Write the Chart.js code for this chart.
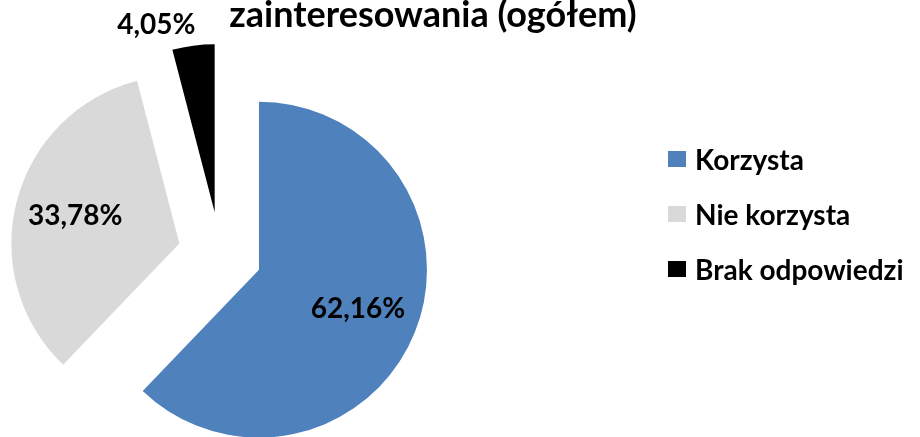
<!DOCTYPE html>
<html>
<head>
<meta charset="utf-8">
<script src="https://cdn.jsdelivr.net/npm/chart.js@4/dist/chart.umd.min.js"></script>
<style>
  html, body { margin: 0; padding: 0; background: #fff; }
  #wrap { position: relative; width: 920px; height: 437px; overflow: hidden; }
  #title {
    position: absolute; left: 433px; top: -5px; transform: translateX(-50%);
    font: bold 36px/36px Lato, sans-serif; color: #000; white-space: nowrap;
  }
  #legend { position: absolute; left: 668px; top: 0; }
  .item { position: absolute; left: 0; display: flex; align-items: center; white-space: nowrap;
    font: bold 28px Lato, sans-serif; color: #000; transform: translateY(-50%); }
  .box { width: 18px; height: 16px; margin-right: 9px; }
</style>
</head>
<body>
<div id="wrap">
  <canvas id="pie"></canvas>
  <div id="title">zainteresowania (ogółem)</div>
  <div id="legend"></div>
</div>
<script>
// Udział respondentów korzystających (ogółem)
const categories = ["Korzysta", "Nie korzysta", "Brak odpowiedzi"];
const shares = [62.16, 33.78, 4.05];
const sliceColors = ["#4F81BD", "#D9D9D9", "#000000"];
const shareLabels = ["62,16%", "33,78%", "4,05%"];

// exploded slices: every slice pushed out from the centre by the same distance
const EXPLODE = 42;
// label placement as fraction of radius + angle nudge (Excel "best fit")
const labelRadius = [0.635, 0.64, 1.17];
const labelNudge = [0, 0, -10];

const explodePlugin = {
  id: "explode",
  afterUpdate(chart) {
    const a = chart.chartArea;
    const cx = (a.left + a.right) / 2, cy = (a.top + a.bottom) / 2;
    chart.getDatasetMeta(0).data.forEach((arc) => {
      const mid = (arc.startAngle + arc.endAngle) / 2;
      arc.x = cx + Math.cos(mid) * EXPLODE;
      arc.y = cy + Math.sin(mid) * EXPLODE;
    });
  },
};

const labelPlugin = {
  id: "sliceLabels",
  afterDatasetsDraw(chart) {
    const c = chart.ctx;
    c.save();
    c.font = "bold 28px Lato, sans-serif";
    c.fillStyle = "#000";
    c.textAlign = "center";
    c.textBaseline = "middle";
    chart.getDatasetMeta(0).data.forEach((arc, i) => {
      const mid = (arc.startAngle + arc.endAngle) / 2 + labelNudge[i] * Math.PI / 180;
      const r = arc.outerRadius * labelRadius[i];
      c.fillText(shareLabels[i], arc.x + Math.cos(mid) * r, arc.y + Math.sin(mid) * r);
    });
    c.restore();
  },
};

new Chart(document.getElementById("pie"), {
  type: "pie",
  data: {
    labels: categories,
    datasets: [{
      data: shares,
      backgroundColor: sliceColors,
      borderWidth: 0,
    }],
  },
  options: {
    responsive: true,
    maintainAspectRatio: false,
    animation: false,
    layout: { padding: { left: 52, top: 86, right: 532, bottom: 15 } },
    plugins: {
      legend: { display: false },
      title: { display: false },
      tooltip: { enabled: false },
    },
  },
  plugins: [explodePlugin, labelPlugin],
});

// legend, built from the same arrays
const legendEl = document.getElementById("legend");
const legendY = [159, 214, 269];
categories.forEach((name, i) => {
  const it = document.createElement("div");
  it.className = "item";
  it.style.top = legendY[i] + "px";
  it.innerHTML = '<span class="box" style="background:' + sliceColors[i] + '"></span><span>' + name + "</span>";
  legendEl.appendChild(it);
});
</script>
</body>
</html>
